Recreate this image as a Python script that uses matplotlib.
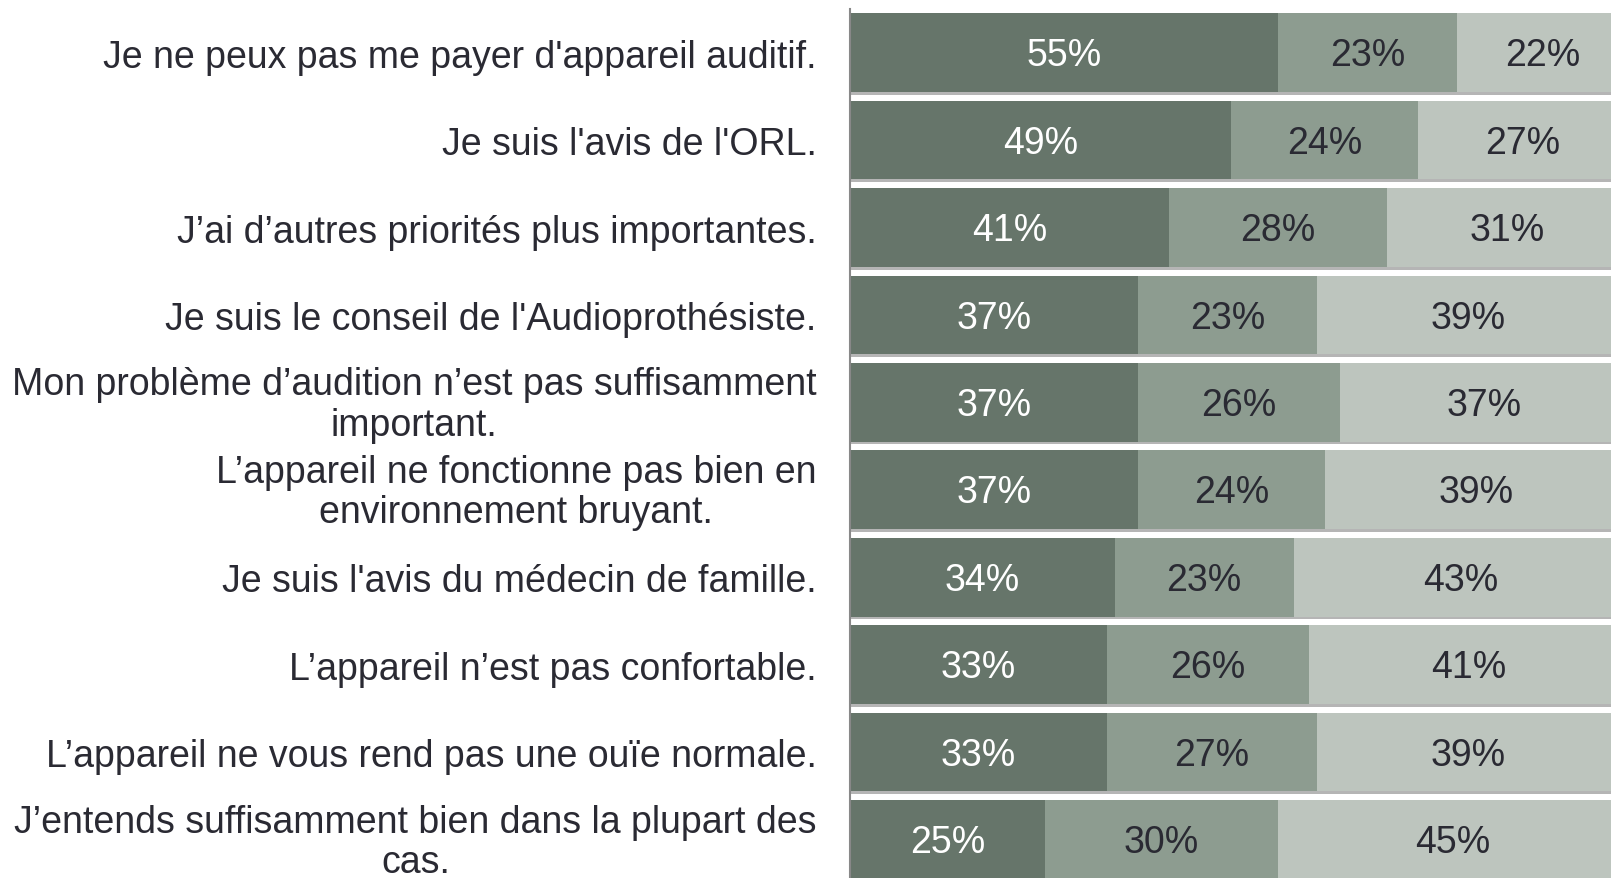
import matplotlib
matplotlib.use("Agg")
from matplotlib import pyplot as plt
from matplotlib.transforms import ScaledTranslation
import numpy as np

plt.rcParams['font.family'] = ['Liberation Sans', 'DejaVu Sans']

labels = [
    "Je ne peux pas me payer d'appareil auditif.",
    "Je suis l'avis de l'ORL.",
    "J\u2019ai d\u2019autres priorit\u00e9s plus importantes.",
    "Je suis le conseil de l'Audioproth\u00e9siste.",
    "Mon probl\u00e8me d\u2019audition n\u2019est pas suffisamment\nimportant.",
    "L\u2019appareil ne fonctionne pas bien en\nenvironnement bruyant.",
    "Je suis l'avis du m\u00e9decin de famille.",
    "L\u2019appareil n\u2019est pas confortable.",
    "L\u2019appareil ne vous rend pas une ou\u00efe normale.",
    "J\u2019entends suffisamment bien dans la plupart des\ncas.",
]
first = [55, 49, 41, 37, 37, 37, 34, 33, 33, 25]
second = [23, 24, 28, 23, 26, 24, 23, 26, 27, 30]
third = [22, 27, 31, 39, 37, 39, 43, 41, 39, 45]

colors = ['#66756a', '#8d9c90', '#bdc5be']
text_colors = ['white', '#2a2a33', '#2a2a33']

fig = plt.figure(figsize=(16.11, 8.79), dpi=100)
ax = fig.add_axes([850 / 1611, 0, 1 - 850 / 1611, 1 - 10 / 879])

y = np.arange(len(labels))
h = 0.9
left = np.zeros(len(labels))
for vals, c, tc in zip([first, second, third], colors, text_colors):
    vals = np.array(vals, dtype=float)
    ax.barh(y, vals, left=left, height=h, color=c, edgecolor='none')
    for yi, l, v in zip(y, left, vals):
        ax.text(l + v / 2, yi + 0.03, f"{int(v)}%", ha='center', va='center',
                color=tc, fontsize=27)
    left += vals

# thin shadow under each bar
ax.barh(y + h / 2 + 0.015, left, height=0.03, color='#b5b5b5', edgecolor='none')

ax.set_yticks(y)
ax.set_yticklabels(labels, fontsize=27, color='#2a2a33',
                   multialignment='center', linespacing=1.15)
ax.tick_params(axis='y', length=0, pad=24)
ax.tick_params(axis='x', bottom=False, labelbottom=False)
# nudge the two-line labels up a little
for lab in ax.get_yticklabels():
    if "\n" in lab.get_text():
        lab.set_transform(lab.get_transform() + ScaledTranslation(0, 4 / 100, fig.dpi_scale_trans))
ax.set_xlim(0, 97.8)
ax.set_ylim(9.44, -0.5)
for s in ['top', 'right', 'bottom']:
    ax.spines[s].set_visible(False)
ax.spines['left'].set_color('#888888')
ax.spines['left'].set_linewidth(1.5)

plt.savefig("out.png", dpi=100)
